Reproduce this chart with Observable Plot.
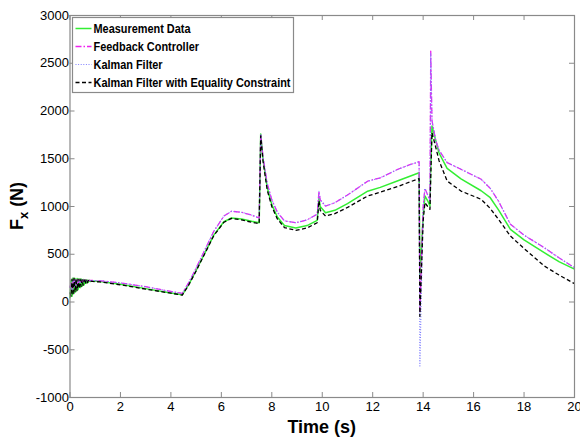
<!DOCTYPE html>
<html>
<head>
<meta charset="utf-8">
<script src="https://cdn.jsdelivr.net/npm/d3@7"></script>
<script src="https://cdn.jsdelivr.net/npm/@observablehq/plot@0.6"></script>
<style>
  html, body { margin: 0; padding: 0; background: #fff; }
  #chart svg { display: block; }
</style>
</head>
<body>
<div id="chart"></div>
<script>
// ---- data ----
const seriesNames = ["Measurement Data", "Feedback Controller", "Kalman Filter", "Kalman Filter with Equality Constraint"];
const time = [0, 0.04, 0.08, 0.12, 0.16, 0.2, 0.24, 0.28, 0.32, 0.36, 0.4, 0.44, 0.48, 0.52, 0.56, 0.6, 0.64, 0.68, 0.72, 0.76, 0.8,
  0.9, 1.2, 2, 3, 4, 4.45, 4.7, 5.0, 5.7, 6.1, 6.4, 6.8, 7.2, 7.5, 7.56, 7.65, 7.82, 8.0, 8.22, 8.5, 8.95, 9.4, 9.8, 9.87, 9.92, 10.13, 10.5,
  11, 11.8, 12.3, 13, 13.5, 13.84, 13.87, 14.0, 14.07, 14.18, 14.27, 14.3, 14.35, 14.5, 14.63, 14.95, 15.5, 16.3, 16.66, 17.0, 17.46, 18.0, 18.8, 19.4, 20];
const measurement = [40, 230, 60, 250, 90, 245, 110, 245, 130, 240, 150, 240, 165, 235, 180, 232, 195, 230, 205, 228, 215,
  220, 215, 185, 140, 95, 75, 180, 330, 700, 840, 880, 870, 845, 830, 1760, 1500, 1197, 1020, 890, 800, 775, 800, 855, 1090, 1000, 935, 960,
  1030, 1160, 1200, 1270, 1320, 1354, 250, 900, 1110, 1060, 1005, 1400, 1843, 1690, 1560, 1400, 1290, 1165, 1092, 960, 761, 650, 516, 420, 345];
const feedback = [150, 200, 120, 230, 150, 235, 170, 235, 185, 232, 195, 230, 205, 230, 212, 230, 218, 228, 222, 226, 225,
  225, 222, 200, 160, 110, 90, 200, 355, 740, 900, 950, 940, 910, 880, 1760, 1520, 1240, 1070, 940, 850, 830, 860, 920, 1160, 1070, 1005, 1040,
  1120, 1265, 1300, 1390, 1440, 1469, -100, 1000, 1190, 1120, 1060, 2628, 1900, 1690, 1590, 1460, 1390, 1285, 1190, 1050, 814, 700, 569, 460, 359];
const kalman = [150, 200, 120, 230, 150, 235, 170, 235, 185, 232, 195, 230, 205, 230, 212, 230, 218, 228, 222, 226, 225,
  225, 222, 200, 160, 110, 90, 200, 355, 740, 900, 950, 940, 910, 880, 1760, 1520, 1240, 1070, 940, 850, 830, 860, 920, 1160, 1070, 1005, 1040,
  1120, 1265, 1300, 1390, 1440, 1469, -670, 1000, 1190, 1120, 1060, 2600, 1900, 1690, 1590, 1460, 1390, 1285, 1190, 1050, 814, 700, 569, 460, 359];
const kalmanEC = [100, 60, 240, 70, 250, 100, 245, 120, 240, 140, 238, 160, 235, 175, 232, 190, 230, 200, 226, 210, 220,
  215, 210, 180, 135, 92, 72, 175, 325, 695, 835, 875, 860, 835, 820, 1740, 1480, 1170, 1000, 870, 780, 750, 775, 830, 1060, 960, 900, 925,
  990, 1110, 1150, 1210, 1260, 1291, -150, 850, 1040, 1000, 970, 1300, 1773, 1620, 1480, 1267, 1162, 1075, 980, 860, 691, 560, 377, 280, 192];
const xTicks = [0, 2, 4, 6, 8, 10, 12, 14, 16, 18, 20];
const yTicks = [-1000, -500, 0, 500, 1000, 1500, 2000, 2500, 3000];

// styles per series
const styles = [
  {stroke: "#33ee33", strokeWidth: 1.5, dash: null},
  {stroke: "#ee22ee", strokeWidth: 1.3, dash: "6,2,1.5,2"},
  {stroke: "#8080ff", strokeWidth: 1.1, dash: "1,1.6"},
  {stroke: "#000000", strokeWidth: 1.3, dash: "4,2.5"}
];
const valuesBySeries = [measurement, feedback, kalman, kalmanEC];
const rows = valuesBySeries.map(vals => time.map((t, i) => ({t, v: vals[i]})));

const W = 580, H = 440;
const mL = 69.5, mR = 6, mT = 15, mB = 43;
const pw = W - mL - mR, ph = H - mT - mB;
const axisGray = "#8a8a8a";
const font = "'Liberation Sans', Arial, Helvetica, sans-serif";

const chart = Plot.plot({
  width: W, height: H,
  marginLeft: mL, marginRight: mR, marginTop: mT, marginBottom: mB,
  style: {fontFamily: font, fontSize: "13px", color: "#000", background: "#fff"},
  x: {domain: [0, 20]},
  y: {domain: [-1000, 3000]},
  marks: [
    ...rows.map((r, i) => Plot.line(r, {
      x: "t", y: "v", stroke: styles[i].stroke, strokeWidth: styles[i].strokeWidth,
      strokeDasharray: styles[i].dash, strokeLinejoin: "round", strokeLinecap: "butt"
    })),
    Plot.tickX(xTicks, {x: d => d, stroke: axisGray, insetTop: ph - 5}),
    Plot.tickX(xTicks, {x: d => d, stroke: axisGray, insetBottom: ph - 5}),
    Plot.tickY(yTicks, {y: d => d, stroke: axisGray, insetRight: pw - 5}),
    Plot.tickY(yTicks, {y: d => d, stroke: axisGray, insetLeft: pw - 5}),
    Plot.frame({stroke: axisGray, strokeWidth: 1.2}),
    Plot.axisX(xTicks, {tickSize: 0, tickPadding: 4, label: null, fontSize: 13, tickFormat: d => String(d)}),
    Plot.axisY(yTicks, {tickSize: 0, tickPadding: 1, label: null, fontSize: 13, tickFormat: d => String(d)})
  ]
});
document.getElementById("chart").appendChild(chart);

// ---- axis titles and legend ----
const svg = d3.select(chart);
svg.append("text")
  .attr("x", mL + pw / 2).attr("y", 433)
  .attr("text-anchor", "middle")
  .attr("font-family", font).attr("font-weight", "bold").attr("font-size", 18)
  .attr("fill", "#000")
  .text("Time (s)");

const yl = svg.append("text")
  .attr("transform", `translate(23,${mT + ph / 2}) rotate(-90)`)
  .attr("text-anchor", "middle")
  .attr("font-family", font).attr("font-weight", "bold").attr("font-size", 18)
  .attr("fill", "#000");
yl.append("tspan").text("F");
yl.append("tspan").attr("dy", 5).attr("font-size", 13).text("x");
yl.append("tspan").attr("dy", -5).text(" (N)");

const lg = svg.append("g").attr("transform", "translate(72.5,17.5)");
lg.append("rect").attr("width", 221).attr("height", 75)
  .attr("fill", "#fff").attr("stroke", axisGray).attr("stroke-width", 1.2);
const labels = [];
seriesNames.forEach((name, i) => {
  const yy = 11 + i * 18;
  lg.append("line").attr("x1", 3).attr("x2", 19).attr("y1", yy).attr("y2", yy)
    .attr("stroke", styles[i].stroke).attr("stroke-width", styles[i].strokeWidth)
    .attr("stroke-dasharray", styles[i].dash);
  labels.push(lg.append("text").attr("x", 21).attr("y", yy).attr("dy", "0.35em")
    .attr("text-anchor", "start")
    .attr("font-family", font)
    .attr("font-weight", "bold").attr("font-size", 13).attr("fill", "#000")
    .text(name));
});
// the reference uses a condensed face: compress glyphs to the reference width
const lens = labels.map(l => l.node().getComputedTextLength());
const factor = Math.min(1, 197 / Math.max(...lens));
labels.forEach((l, i) => {
  if (factor < 1) l.attr("textLength", lens[i] * factor).attr("lengthAdjust", "spacingAndGlyphs");
});
</script>
</body>
</html>
